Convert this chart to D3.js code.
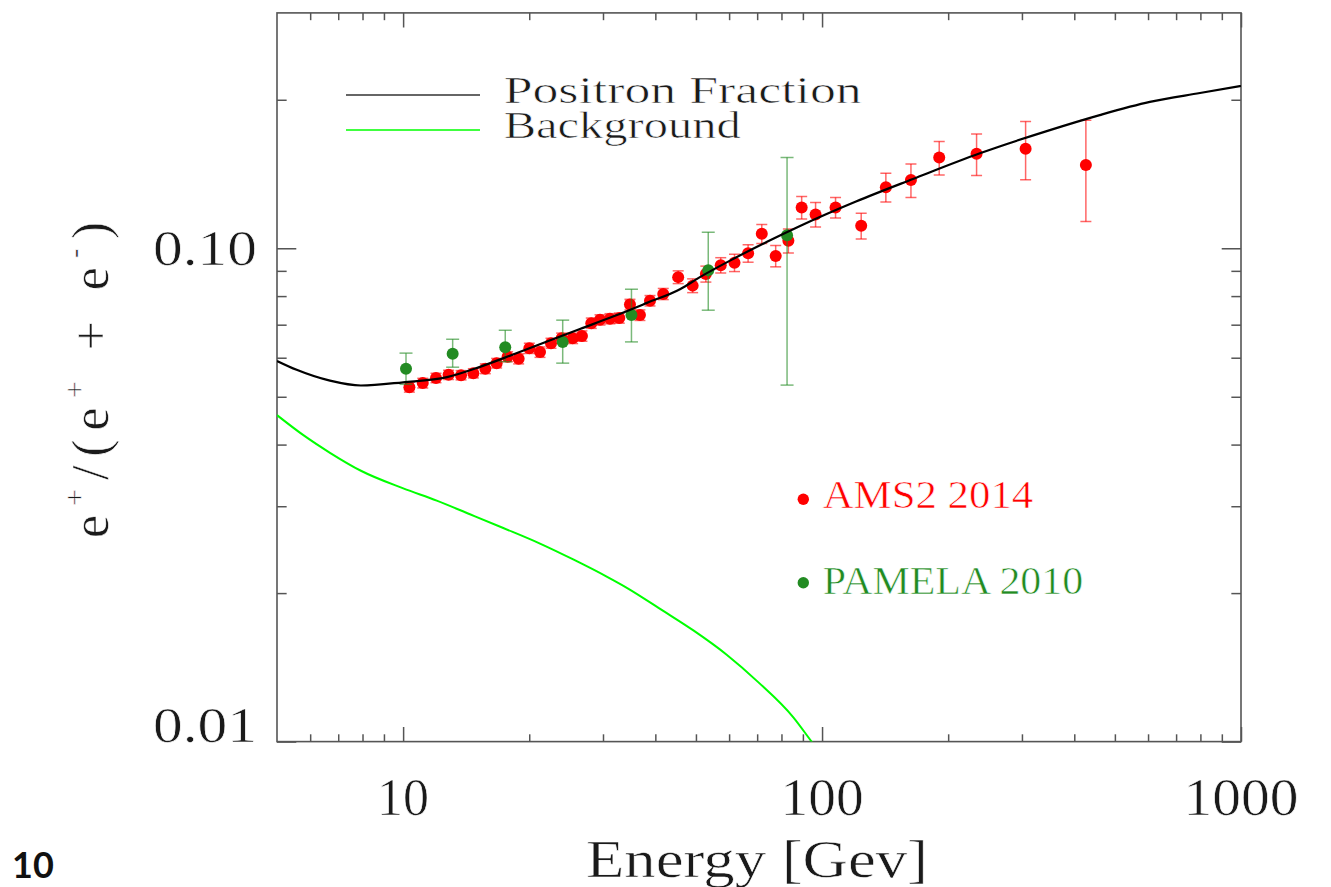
<!DOCTYPE html>
<html>
<head>
<meta charset="utf-8">
<script src="https://cdn.jsdelivr.net/npm/d3@7"></script>
<style>
  html, body { margin: 0; padding: 0; background: #fff; }
  svg { display: block; }
  .serif { font-family: "Liberation Serif", "DejaVu Serif", serif; }
  .thin { stroke: #fff; stroke-width: 0.6px; paint-order: fill; }
  .pageno { font-family: Lato, "Open Sans", sans-serif; font-weight: bold; }
</style>
</head>
<body>
<svg id="chart" width="1331" height="887"></svg>
<script>
// AMS-02 (2014) positron fraction
const amsEnergy = [10.35, 11.14, 11.98, 12.84, 13.75, 14.71, 15.71, 16.72, 17.76, 18.87,
  20.01, 21.22, 22.54, 23.90, 25.39, 26.72, 28.13, 29.51, 31.17, 32.81,
  34.79, 36.75, 38.84, 41.78, 45.35, 49.10, 52.8, 57.3, 61.8, 66.6,
  71.8, 77.5, 83.1, 89.4, 96.5, 107.7, 124.0, 142.0, 163.0, 190.4,
  233.8, 306.1, 426.3];
const amsFraction = [0.0523, 0.0533, 0.0546, 0.0554, 0.0553, 0.0558, 0.0570, 0.0585, 0.0603, 0.0597,
  0.0627, 0.0616, 0.0642, 0.0657, 0.0657, 0.0664, 0.0705, 0.0716, 0.0720, 0.0722,
  0.0769, 0.0732, 0.0783, 0.0808, 0.0874, 0.0840, 0.0887, 0.0924, 0.0935, 0.0977,
  0.1070, 0.0965, 0.1036, 0.1210, 0.1171, 0.1210, 0.1111, 0.1330, 0.1375, 0.1527,
  0.1555, 0.1592, 0.1475];
const amsError = [0.0012, 0.0012, 0.0012, 0.0012, 0.0012, 0.0012, 0.0013, 0.0013, 0.0014, 0.0014,
  0.0015, 0.0015, 0.0015, 0.0016, 0.0016, 0.0016, 0.0017, 0.0017, 0.0017, 0.0017,
  0.0019, 0.0018, 0.0019, 0.0021, 0.0026, 0.0027, 0.0033, 0.0033, 0.0038, 0.0040,
  0.0048, 0.0048, 0.0058, 0.0064, 0.0067, 0.0058, 0.0067, 0.0089, 0.0107, 0.0120,
  0.0150, 0.0215, 0.0342];

// PAMELA (2010) positron fraction
const pamelaEnergy = [10.16, 13.13, 17.53, 24.04, 35.08, 53.5, 82.5];
const pamelaFraction = [0.0570, 0.0611, 0.0630, 0.0646, 0.0732, 0.0903, 0.1063];
const pamelaErrLow = [0.0040, 0.0037, 0.0041, 0.0061, 0.0086, 0.0154, 0.0535];
const pamelaErrHigh = [0.0043, 0.0043, 0.0052, 0.0069, 0.0094, 0.0175, 0.0464];

// Model curves
const fractionEnergy = [5.0, 5.57, 6.69, 7.93, 10.0, 12.73, 15.26, 18.30, 22.05, 26.43,
  31.69, 38.2, 45.8, 51.1, 61.3, 73.9, 88.6, 120.5, 164.8, 238.1,
  349.8, 460, 606, 798, 1000];
const fractionValue = [0.0591, 0.0567, 0.0539, 0.0527, 0.0535, 0.0548, 0.0575, 0.0609, 0.0647, 0.0686,
  0.0727, 0.0775, 0.0826, 0.0874, 0.0951, 0.1031, 0.1110, 0.1244, 0.1382, 0.1558,
  0.1736, 0.1862, 0.1980, 0.2064, 0.2133];

const backgroundEnergy = [5.0, 5.78, 6.69, 7.93, 10.01, 12.03, 14.44, 17.34, 21.22, 25.47,
  30.61, 34.2, 41.78, 49.3, 59.2, 70.4, 85.4, 94.4, 97.0];
const backgroundValue = [0.0459, 0.0418, 0.0385, 0.0354, 0.0326, 0.0308, 0.0289, 0.0271, 0.0252, 0.0234,
  0.0216, 0.0205, 0.0184, 0.0168, 0.0150, 0.0132, 0.0112, 0.0100, 0.0097];

// Axis ticks
const xMajorTicks = [10, 100, 1000];
const xMinorTicks = [6, 7, 8, 9, 20, 30, 40, 50, 60, 70, 80, 90, 200, 300, 400, 500, 600, 700, 800, 900];
const xTickLabels = ["10", "100", "1000"];
const yMajorTicks = [0.01, 0.1];
const yMinorTicks = [0.02, 0.03, 0.04, 0.05, 0.06, 0.07, 0.08, 0.09, 0.2];
const yTickLabels = ["0.01", "0.10"];

const svg = d3.select("#chart");
const plot = { left: 277, right: 1241, top: 12.9, bottom: 741.6 };
const x = d3.scaleLog().domain([5, 1000]).range([plot.left, plot.right]);
const y = d3.scaleLog().domain([0.01, 0.3]).range([plot.bottom, plot.top]);

const axisColor = "#555";
const textColor = "#1a1a1a";
const tickX = 14.6, tickY = 19.3;

svg.append("defs").append("clipPath").attr("id", "plotClip")
  .append("rect")
  .attr("x", plot.left).attr("y", plot.top)
  .attr("width", plot.right - plot.left).attr("height", plot.bottom - plot.top);

// axes (ticks point inward, mirrored on all four sides)
function addAxis(axisFn, scale, values, size, transform) {
  const g = svg.append("g").attr("transform", transform)
    .call(axisFn(scale).tickValues(values).tickSize(-size).tickSizeOuter(0).tickFormat(""));
  g.select(".domain").remove();
  g.selectAll(".tick line").attr("stroke", axisColor).attr("stroke-width", 1.5);
  return g;
}
addAxis(d3.axisBottom, x, xMajorTicks, tickX, `translate(0,${plot.bottom})`);
addAxis(d3.axisBottom, x, xMinorTicks, tickX / 2, `translate(0,${plot.bottom})`);
addAxis(d3.axisTop, x, xMajorTicks, tickX, `translate(0,${plot.top})`);
addAxis(d3.axisTop, x, xMinorTicks, tickX / 2, `translate(0,${plot.top})`);
addAxis(d3.axisLeft, y, yMajorTicks, tickY, `translate(${plot.left},0)`);
addAxis(d3.axisLeft, y, yMinorTicks, tickY / 2, `translate(${plot.left},0)`);
addAxis(d3.axisRight, y, yMajorTicks, tickY, `translate(${plot.right},0)`);
addAxis(d3.axisRight, y, yMinorTicks, tickY / 2, `translate(${plot.right},0)`);

// frame
svg.append("rect")
  .attr("x", plot.left).attr("y", plot.top)
  .attr("width", plot.right - plot.left).attr("height", plot.bottom - plot.top)
  .attr("fill", "none").attr("stroke", axisColor).attr("stroke-width", 1.6);

// tick labels
const xLabelWidths = [52, 83, 115];
svg.append("g").selectAll("text").data(xMajorTicks).join("text")
  .attr("class", "serif thin")
  .attr("x", d => x(d)).attr("y", 815)
  .attr("text-anchor", "middle")
  .attr("font-size", 52).attr("fill", textColor)
  .attr("textLength", (d, i) => xLabelWidths[i]).attr("lengthAdjust", "spacingAndGlyphs")
  .text((d, i) => xTickLabels[i]);

const yLabelBaseline = [742, 265];
svg.append("g").selectAll("text").data(yMajorTicks).join("text")
  .attr("class", "serif thin")
  .attr("x", 257).attr("y", (d, i) => yLabelBaseline[i])
  .attr("text-anchor", "end")
  .attr("font-size", 50).attr("fill", textColor)
  .attr("textLength", 104).attr("lengthAdjust", "spacingAndGlyphs")
  .text((d, i) => yTickLabels[i]);

// axis titles
svg.append("text")
  .attr("class", "serif thin")
  .attr("x", 757).attr("y", 876.7).attr("text-anchor", "middle")
  .attr("font-size", 53).attr("fill", textColor)
  .attr("textLength", 342).attr("lengthAdjust", "spacingAndGlyphs")
  .text("Energy [Gev]");

const yTitle = svg.append("text")
  .attr("class", "serif thin")
  .attr("transform", "translate(108,380) rotate(-90)")
  .attr("text-anchor", "middle")
  .attr("font-size", 52).attr("fill", textColor)
  .attr("textLength", 316).attr("lengthAdjust", "spacing");
yTitle.append("tspan").text("e");
yTitle.append("tspan").attr("dy", -24).attr("font-size", 30).text("+");
yTitle.append("tspan").attr("dy", 24).text("/(e");
yTitle.append("tspan").attr("dy", -24).attr("font-size", 30).text("+");
yTitle.append("tspan").attr("dy", 24).text(" + e");
yTitle.append("tspan").attr("dy", -24).attr("font-size", 30).text("-");
yTitle.append("tspan").attr("dy", 24).text(")");

// page number
svg.append("text")
  .attr("class", "pageno")
  .attr("x", 12).attr("y", 878)
  .attr("font-size", 36).attr("fill", "#111")
  .text("10");

const dataLayer = svg.append("g").attr("clip-path", "url(#plotClip)");

// measured points with error bars
const ams = amsEnergy.map((e, i) => ({ e, v: amsFraction[i], lo: amsError[i], hi: amsError[i] }));
const pamela = pamelaEnergy.map((e, i) => ({ e, v: pamelaFraction[i], lo: pamelaErrLow[i], hi: pamelaErrHigh[i] }));

function drawSeries(data, color, capHalf) {
  const g = dataLayer.append("g");
  const bars = g.append("g").attr("stroke", color).attr("stroke-opacity", 0.6).attr("stroke-width", 1.5);
  bars.selectAll("line.v").data(data).join("line").attr("class", "v")
    .attr("x1", d => x(d.e)).attr("x2", d => x(d.e))
    .attr("y1", d => y(d.v - d.lo)).attr("y2", d => y(d.v + d.hi));
  bars.selectAll("line.t").data(data).join("line").attr("class", "t")
    .attr("x1", d => x(d.e) - capHalf).attr("x2", d => x(d.e) + capHalf)
    .attr("y1", d => y(d.v + d.hi)).attr("y2", d => y(d.v + d.hi));
  bars.selectAll("line.b").data(data).join("line").attr("class", "b")
    .attr("x1", d => x(d.e) - capHalf).attr("x2", d => x(d.e) + capHalf)
    .attr("y1", d => y(d.v - d.lo)).attr("y2", d => y(d.v - d.lo));
  g.append("g").selectAll("circle").data(data).join("circle")
    .attr("cx", d => x(d.e)).attr("cy", d => y(d.v)).attr("r", 6)
    .attr("fill", color);
}
drawSeries(ams, "#ff0000", 5.5);
drawSeries(pamela, "#228b22", 6.5);

// model curves
const line = d3.line().x(d => x(d[0])).y(d => y(d[1])).curve(d3.curveMonotoneX);
dataLayer.append("path")
  .datum(backgroundEnergy.map((e, i) => [e, backgroundValue[i]]))
  .attr("d", line).attr("fill", "none").attr("stroke", "#00ff00").attr("stroke-width", 2);
dataLayer.append("path")
  .datum(fractionEnergy.map((e, i) => [e, fractionValue[i]]))
  .attr("d", line).attr("fill", "none").attr("stroke", "#000").attr("stroke-width", 2.2);

// line legend
const lineLegend = [
  { label: "Positron Fraction", color: "#333", y: 95, base: 102.5, width: 358 },
  { label: "Background", color: "#00ff00", y: 130, base: 138, width: 237 }
];
const ll = svg.append("g").selectAll("g").data(lineLegend).join("g");
ll.append("line").attr("x1", 346).attr("x2", 480)
  .attr("y1", d => d.y).attr("y2", d => d.y)
  .attr("stroke", d => d.color).attr("stroke-width", 1.5);
ll.append("text").attr("class", "serif thin").attr("x", 503.7).attr("y", d => d.base)
  .attr("font-size", 38).attr("fill", textColor)
  .attr("textLength", d => d.width).attr("lengthAdjust", "spacingAndGlyphs")
  .text(d => d.label);

// data legend
const pointLegend = [
  { label: "AMS2 2014", color: "#ff0000", y: 499.3, base: 508.3, width: 210.6 },
  { label: "PAMELA 2010", color: "#228b22", y: 582.7, base: 594, width: 260.6 }
];
const pl = svg.append("g").selectAll("g").data(pointLegend).join("g");
pl.append("circle").attr("cx", 803.3).attr("cy", d => d.y).attr("r", 5.7).attr("fill", d => d.color);
pl.append("text").attr("class", "serif thin").attr("x", 822.7).attr("y", d => d.base)
  .attr("font-size", 39).attr("fill", d => d.color)
  .attr("textLength", d => d.width).attr("lengthAdjust", "spacingAndGlyphs")
  .text(d => d.label);
</script>
</body>
</html>
